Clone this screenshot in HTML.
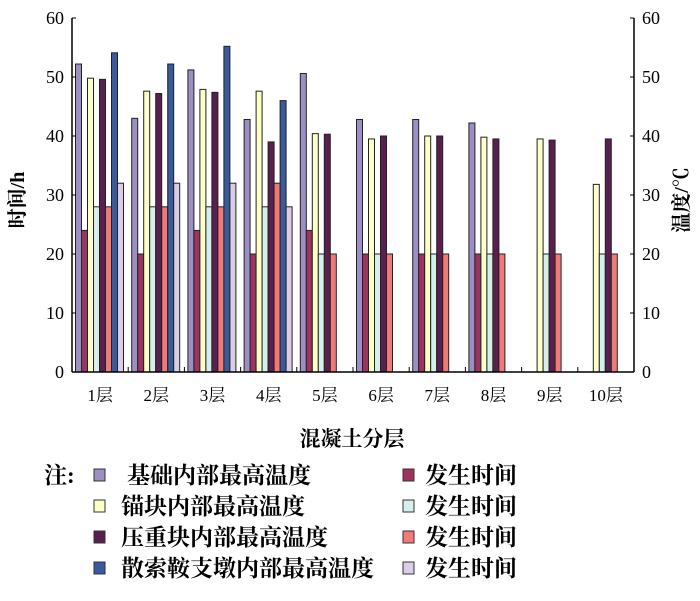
<!DOCTYPE html>
<html><head><meta charset="utf-8"><style>
body{margin:0;background:#fff;}
svg text{font-family:"Liberation Serif","Noto Serif CJK SC",serif;fill:#000;}
</style></head><body>
<svg id="c" width="700" height="596" xmlns="http://www.w3.org/2000/svg"></svg>
<script>
const categories=["1层","2层","3层","4层","5层","6层","7层","8层","9层","10层"];
const baseTemp=[52.2,43,51.2,42.8,50.6,42.8,42.8,42.2,null,null];
const baseTime=[24,20,24,20,24,20,20,20,null,null];
const anchorTemp=[49.8,47.6,47.9,47.6,40.4,39.5,40,39.8,39.5,31.8];
const anchorTime=[28,28,28,28,20,20,20,20,20,20];
const pressTemp=[49.6,47.2,47.4,39,40.3,40,40,39.5,39.3,39.5];
const pressTime=[28,28,28,32,20,20,20,20,20,20];
const saddleTemp=[54.1,52.2,55.2,46,null,null,null,null,null,null];
const saddleTime=[32,32,32,28,null,null,null,null,null,null];
const yTicks=[0,10,20,30,40,50,60];
const series=[
 {d:baseTemp,c:"#9d8fc4",n:"基础内部最高温度"},
 {d:baseTime,c:"#9b3560",n:"发生时间"},
 {d:anchorTemp,c:"#ffffc8",n:"锚块内部最高温度"},
 {d:anchorTime,c:"#d6efec",n:"发生时间"},
 {d:pressTemp,c:"#5a1f4f",n:"压重块内部最高温度"},
 {d:pressTime,c:"#f07a78",n:"发生时间"},
 {d:saddleTemp,c:"#3a5a9e",n:"散索鞍支墩内部最高温度"},
 {d:saddleTime,c:"#dccde6",n:"发生时间"}];
const svg=document.getElementById('c');const NS="http://www.w3.org/2000/svg";
const L=72,R=634,T=18,B=372;
const y=v=>B-(v/60)*(B-T);
const gw=(R-L)/categories.length;
function el(t,a,txt){const e=document.createElementNS(NS,t);for(const k in a)e.setAttribute(k,a[k]);if(txt!=null)e.textContent=txt;svg.appendChild(e);return e;}
series.forEach((s,si)=>{s.d.forEach((v,i)=>{if(v==null)return;
 const r=el('rect',{x:L+i*gw+3.5+si*6,y:y(v),width:6,height:B-y(v),fill:s.c,stroke:"#222","stroke-width":1});
 
 });});
let a=el('line',{x1:L,y1:T,x2:L,y2:B,stroke:"#000","stroke-width":1.5});
a=el('line',{x1:R,y1:T,x2:R,y2:B,stroke:"#000","stroke-width":1.5});
a=el('line',{x1:L,y1:B,x2:R,y2:B,stroke:"#000","stroke-width":1.5});
yTicks.forEach(t=>{
 el('line',{x1:L,y1:y(t),x2:L+4,y2:y(t),stroke:"#000"});
 el('line',{x1:R-4,y1:y(t),x2:R,y2:y(t),stroke:"#000"});
 let lt=el('text',{x:L-8,y:y(t)+6,"text-anchor":"end","font-size":18},t);
 let rt=el('text',{x:R+8,y:y(t)+6,"font-size":18},t);});
categories.forEach((c,i)=>{
 if(i>0)el('line',{x1:L+i*gw,y1:B,x2:L+i*gw,y2:B-5,stroke:"#000"});
 let t=el('text',{x:L+i*gw+gw/2,y:401,"text-anchor":"middle","font-size":17},c);});
let t=el('text',{x:0,y:0,"font-size":20,"font-weight":"bold","text-anchor":"middle",transform:"translate(24,200) rotate(-90)"},"时间/h");
t=el('text',{x:0,y:0,"font-size":20,"font-weight":"bold","text-anchor":"middle",transform:"translate(688,200) rotate(-90)"},"温度/℃");
t=el('text',{x:352,y:446,"font-size":21,"font-weight":"bold","text-anchor":"middle"},"混凝土分层");
t=el('text',{x:44,y:483,"font-size":23,"font-weight":"bold"},"注:");
for(let r=0;r<4;r++){const yy=475+r*31;
 [[0,94,r===0?127:121],[1,403,425]].forEach(([k,mx,tx])=>{const s=series[r*2+k];
  let m=el('rect',{x:mx,y:yy-6,width:11,height:12,fill:s.c,stroke:"#333"});
  let lt=el('text',{x:tx,y:yy+8,"font-size":23,"font-weight":"bold"},s.n);});}
</script>
</body></html>
